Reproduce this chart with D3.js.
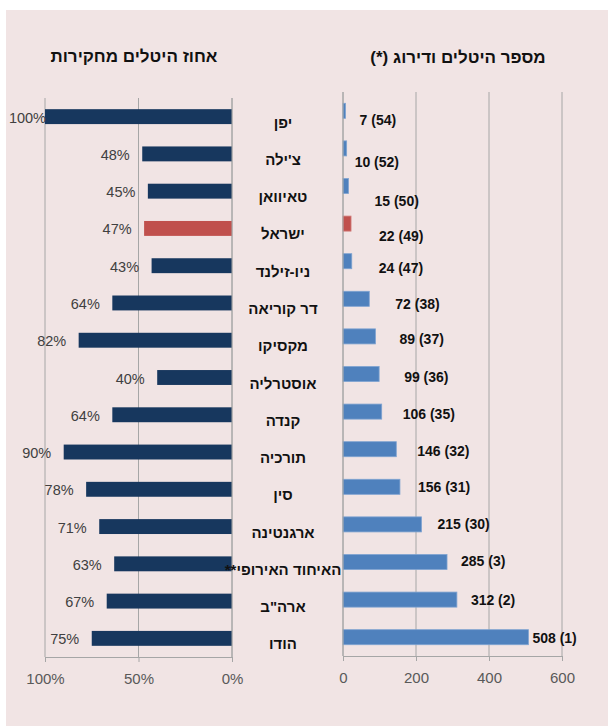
<!DOCTYPE html>
<html>
<head>
<meta charset="utf-8">
<script src="https://cdn.jsdelivr.net/npm/d3@7"></script>
<style>
  html, body { margin: 0; padding: 0; background: #ffffff; }
  svg { display: block; }
  text { font-family: "Liberation Sans", Arial, sans-serif; }
</style>
</head>
<body>
<svg id="chart" width="608" height="726"></svg>
<script>
// ---- data ----
const countries = ["יפן", "צ'ילה", "טאיוואן", "ישראל", "ניו-זילנד", "דר קוריאה", "מקסיקו", "אוסטרליה", "קנדה", "תורכיה", "סין", "ארגנטינה", "האיחוד האירופי**", "ארה\"ב", "הודו"];
const shareInvestigations = [1.00, 0.48, 0.45, 0.47, 0.43, 0.64, 0.82, 0.40, 0.64, 0.90, 0.78, 0.71, 0.63, 0.67, 0.75];
const dutyCounts = [7, 10, 15, 22, 24, 72, 89, 99, 106, 146, 156, 215, 285, 312, 508];
const dutyRanks = [54, 52, 50, 49, 47, 38, 37, 36, 35, 32, 31, 30, 3, 2, 1];
const highlight = "ישראל";
const leftTicks = [1, 0.5, 0];
const leftTickLabels = ["100%", "50%", "0%"];
const rightTicks = [0, 200, 400, 600];
const leftTitle = "אחוז היטלים מחקירות";
const rightTitle = "מספר היטלים ודירוג (*)";
// manual label nudges (px) as placed in the original chart
const labelNudgeX = [10, 4, 22, 24, 23, 22, 20, 21, 17, 17, 14, 12, 10, 10, 0];
const labelNudgeY = [9, 14, 15, 12, 7, 5, 3, 3, 2, 2, 0, 0, -1, 0, 1];

// ---- layout ----
const svg = d3.select("#chart");
svg.append("rect").attr("x", 6).attr("y", 10).attr("width", 602).attr("height", 716).attr("fill", "#f1e4e4");

const gridColor = "#a6a6a6";
const navy = "#17375e", red = "#c0504d", blue = "#4f81bd";

// Left chart
const xL = d3.scaleLinear().domain([0, 1]).range([232, 45]);
const yL = d3.scaleBand().domain(countries).range([98, 657]).paddingInner(0.6).paddingOuter(0.3);
// Right chart
const xR = d3.scaleLinear().domain([0, 600]).range([343, 562]);
const yR = d3.scaleBand().domain(countries).range([92, 656]).paddingInner(0.6).paddingOuter(0.3);

// gridlines left
const gL = svg.append("g");
gL.selectAll("line.grid").data(leftTicks).join("line")
  .attr("x1", d => xL(d)).attr("x2", d => xL(d))
  .attr("y1", yL.range()[0]).attr("y2", yL.range()[1])
  .attr("stroke", gridColor).attr("stroke-width", 1);
// bottom axis left
const axL = d3.axisBottom(xL).tickValues(leftTicks).tickFormat((d, i) => leftTickLabels[i]).tickSize(5).tickPadding(11);
const axLg = svg.append("g").attr("transform", `translate(0,${yL.range()[1]})`).call(axL);
axLg.select(".domain").attr("stroke", gridColor);
axLg.selectAll(".tick line").attr("stroke", gridColor);
axLg.selectAll(".tick text").attr("fill", "#595959").style("font-size", "15px").style("font-family", "Liberation Sans, Arial, sans-serif");

// left bars
gL.selectAll("rect.bar").data(countries).join("rect")
  .attr("x", (d, i) => xL(shareInvestigations[i]))
  .attr("y", d => yL(d))
  .attr("width", (d, i) => xL(0) - xL(shareInvestigations[i]))
  .attr("height", yL.bandwidth())
  .attr("fill", d => d === highlight ? red : navy);
// left vertical axis line on top
gL.append("line").attr("x1", xL(0)).attr("x2", xL(0)).attr("y1", yL.range()[0]).attr("y2", yL.range()[1]).attr("stroke", gridColor);

// left value labels
gL.selectAll("text.val").data(countries).join("text")
  .attr("x", (d, i) => Math.max(xL(shareInvestigations[i]) - 12.5, xL(1) + 1))
  .attr("y", d => yL(d) + yL.bandwidth() / 2 + 6)
  .attr("text-anchor", "end")
  .attr("fill", "#404040")
  .style("font-size", "14.5px")
  .text((d, i) => Math.round(shareInvestigations[i] * 100) + "%");

// Right chart gridlines
const gR = svg.append("g");
gR.selectAll("line.grid").data(rightTicks).join("line")
  .attr("x1", d => xR(d)).attr("x2", d => xR(d))
  .attr("y1", yR.range()[0]).attr("y2", yR.range()[1])
  .attr("stroke", gridColor).attr("stroke-width", 1);
const axR = d3.axisBottom(xR).tickValues(rightTicks).tickSize(5).tickPadding(11);
const axRg = svg.append("g").attr("transform", `translate(0,${yR.range()[1]})`).call(axR);
axRg.select(".domain").attr("stroke", gridColor);
axRg.selectAll(".tick line").attr("stroke", gridColor);
axRg.selectAll(".tick text").attr("fill", "#595959").style("font-size", "15px").style("font-family", "Liberation Sans, Arial, sans-serif");

gR.selectAll("rect.bar").data(countries).join("rect")
  .attr("x", xR(0))
  .attr("y", d => yR(d))
  .attr("width", (d, i) => xR(dutyCounts[i]) - xR(0))
  .attr("height", yR.bandwidth())
  .attr("fill", d => d === highlight ? red : blue)
  .attr("stroke", d => d === highlight ? "#d27d7b" : "#7fa3d1")
  .attr("stroke-width", 0.8);
gR.append("line").attr("x1", xR(0)).attr("x2", xR(0)).attr("y1", yR.range()[0]).attr("y2", yR.range()[1]).attr("stroke", gridColor);

gR.selectAll("text.val").data(countries).join("text")
  .attr("x", (d, i) => xR(dutyCounts[i]) + 4 + labelNudgeX[i])
  .attr("y", (d, i) => yR(d) + yR.bandwidth() / 2 + 5 + labelNudgeY[i])
  .attr("fill", "#111")
  .style("font-size", "14px")
  .style("font-weight", "bold")
  .text((d, i) => `${dutyCounts[i]} (${dutyRanks[i]})`);

// category labels (middle)
svg.append("g").selectAll("text").data(countries).join("text")
  .attr("x", 283)
  .attr("y", d => yL(d) + yL.bandwidth() / 2 + 11)
  .attr("text-anchor", "middle")
  .attr("direction", "rtl")
  .attr("fill", "#111")
  .style("font-size", "15px")
  .style("font-weight", "bold")
  .text(d => d);

// titles
svg.append("text").attr("x", 134).attr("y", 62).attr("text-anchor", "middle").attr("direction", "rtl")
  .style("font-size", "17px").style("font-weight", "bold").attr("fill", "#111").text(leftTitle);
svg.append("text").attr("x", 458).attr("y", 63).attr("text-anchor", "middle").attr("direction", "rtl")
  .style("font-size", "17px").style("font-weight", "bold").attr("fill", "#111").text(rightTitle);
</script>
</body>
</html>
